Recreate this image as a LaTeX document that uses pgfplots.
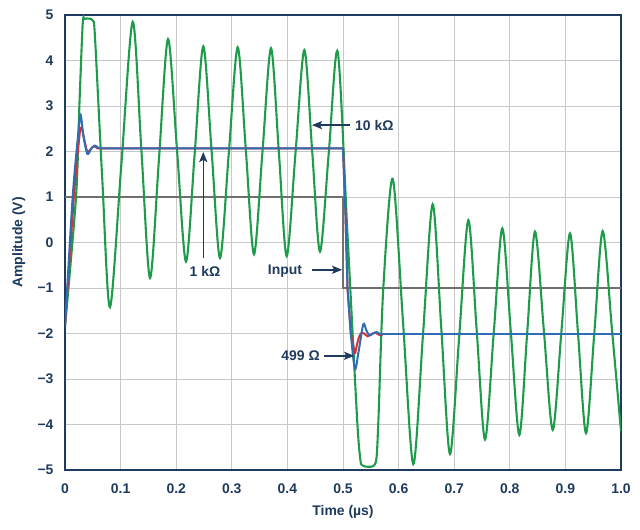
\documentclass[border=0pt]{standalone}
\usepackage{pgfplots}
\pgfplotsset{compat=1.18}
\usepackage{fontspec}
\setmainfont{Liberation Sans}
\usetikzlibrary{arrows.meta}
\definecolor{navy}{HTML}{1E3A5C}
\definecolor{gC}{HTML}{1E9B4B}
\definecolor{bC}{HTML}{2E6DB4}
\definecolor{rC}{HTML}{D7312E}
\definecolor{iC}{HTML}{707070}
\definecolor{gridC}{HTML}{C8C8C8}
\newcommand{\lab}{\bfseries\fontsize{14}{16}\selectfont}
\begin{document}
\begin{tikzpicture}
\begin{axis}[
  at={(65bp,60bp)}, anchor=south west,
  width=556bp, height=455bp, scale only axis,
  xmin=0, xmax=1, ymin=-5, ymax=5,
  xtick={0,0.1,0.2,0.3,0.4,0.5,0.6,0.7,0.8,0.9,1.0},
  xticklabels={0,0.1,0.2,0.3,0.4,0.5,0.6,0.7,0.8,0.9,1.0},
  ytick={-5,-4,-3,-2,-1,0,1,2,3,4,5},
  yticklabels={−5,−4,−3,−2,−1,0,1,2,3,4,5},
  grid=major,
  major grid style={gridC, line width=0.9bp},
  major tick length=0pt,
  axis line style={navy, line width=2bp},
  tick label style={font=\lab, text=navy},
  yticklabel style={xshift=-8bp},
  xticklabel style={yshift=-10bp},
  xlabel={Time (µs)}, ylabel={Amplitude (V)},
  label style={font=\lab, text=navy},
  every axis x label/.append style={at={(axis description cs:0.5,-0.092)}, anchor=center},
  every axis y label/.append style={at={(axis description cs:-0.083,0.5)}, anchor=center},
]
% Input
\addplot[iC, line width=2bp] coordinates {(0,1) (0.5,1) (0.5,-1) (1,-1)};
% 10 kOhm (green)
\addplot[gC, line width=2.1bp, smooth] coordinates {
(0,-1.85) (0.0198,1.0) (0.0257,2.96) (0.0318,4.80) (0.035,4.91) (0.043,4.92) (0.0505,4.87) (0.054,4.5)
(0.067,1.4) (0.0809,-1.42) (0.1014,1.72) (0.1218,4.85) (0.1374,2.03) (0.1529,-0.78)
(0.1691,1.85) (0.1853,4.47) (0.2015,2.03) (0.2176,-0.42) (0.2332,1.95) (0.2487,4.31)
(0.2638,1.99) (0.2788,-0.34) (0.2947,1.98) (0.3106,4.29) (0.3253,2.02) (0.3399,-0.26)
(0.3552,2.0) (0.3705,4.27) (0.3846,1.99) (0.3987,-0.30) (0.4146,1.97) (0.4304,4.23)
(0.4445,2.02) (0.4586,-0.20) (0.4746,2.0) (0.4905,4.19)
(0.508,0.2) (0.525,-3.8) (0.531,-4.75) (0.535,-4.9) (0.546,-4.93) (0.556,-4.90) (0.5605,-4.7)
(0.564,-3.8) (0.5725,-1.0) (0.5894,1.40) (0.6079,-1.74) (0.6264,-4.87) (0.6439,-2.02)
(0.6613,0.84) (0.6769,-1.91) (0.6924,-4.65) (0.7089,-2.08) (0.7254,0.49) (0.7404,-1.92)
(0.7554,-4.33) (0.7710,-2.01) (0.7865,0.31) (0.8018,-1.96) (0.8171,-4.23) (0.8312,-2.0)
(0.8453,0.24) (0.8613,-1.94) (0.8772,-4.12) (0.8928,-1.96) (0.9083,0.20) (0.9227,-2.0)
(0.9371,-4.19) (0.9521,-1.97) (0.9671,0.25) (0.984,-1.95) (1.0,-4.15)};
% 499 Ohm (red)
\addplot[rC, line width=2bp, smooth] coordinates {
(0,-1.85) (0.016,1.0) (0.026,2.35) (0.030,2.53) (0.034,2.3) (0.040,2.0) (0.046,2.05) (0.052,2.12) (0.058,2.07) (0.066,2.07)};
\addplot[rC, line width=2bp] coordinates {(0.066,2.07) (0.5,2.07) (0.5045,0.6) (0.5081,-1.0) (0.514,-2.0) (0.5216,-2.45)};
\addplot[rC, line width=2bp, smooth] coordinates {
(0.5216,-2.45) (0.527,-2.15) (0.532,-2.0) (0.538,-2.0) (0.544,-2.06) (0.551,-2.02) (0.558,-1.98) (0.565,-2.03) (0.572,-2.02)};
% 1 kOhm (blue)
\addplot[bC, line width=2bp, smooth] coordinates {
(0,-1.85) (0.0138,1.0) (0.0239,2.4) (0.0282,2.80) (0.033,2.35) (0.0401,1.95) (0.047,2.06) (0.054,2.13) (0.060,2.08) (0.066,2.07)};
\addplot[bC, line width=2bp] coordinates {(0.066,2.07) (0.5,2.07) (0.5045,0.6) (0.5081,-1.0) (0.514,-2.0)};
\addplot[bC, line width=2bp, smooth] coordinates {
(0.514,-2.0) (0.5214,-2.78) (0.528,-2.4) (0.5365,-1.80) (0.542,-1.93) (0.5473,-2.04) (0.554,-2.0) (0.5606,-1.97) (0.566,-2.01) (0.572,-2.02)};
\addplot[bC, line width=2bp] coordinates {(0.572,-2.02) (1,-2.02)};
% annotations
\draw[navy, line width=1.5bp, -{Stealth[length=10bp,width=8bp,inset=2bp]}] (axis cs:0.5126,2.58) -- (axis cs:0.4442,2.58);
\node[anchor=west, text=navy, font=\lab, inner sep=0pt] at (axis cs:0.5216,2.58) {10 kΩ};
\draw[navy, line width=1.5bp, -{Stealth[length=10bp,width=8bp,inset=2bp]}] (axis cs:0.2487,-0.34) -- (axis cs:0.2487,1.99);
\node[anchor=center, text=navy, font=\lab, inner sep=0pt] at (axis cs:0.2518,-0.63) {1 kΩ};
\node[anchor=center, text=navy, font=\lab, inner sep=0pt] at (axis cs:0.3957,-0.62) {Input};
\draw[navy, line width=1.5bp, -{Stealth[length=10bp,width=8bp,inset=2bp]}] (axis cs:0.4442,-0.60) -- (axis cs:0.4985,-0.60);
\node[anchor=east, text=navy, font=\lab, inner sep=0pt] at (axis cs:0.4586,-2.49) {499 Ω};
\draw[navy, line width=1.5bp, -{Stealth[length=10bp,width=8bp,inset=2bp]}] (axis cs:0.4664,-2.49) -- (axis cs:0.5200,-2.49);
\end{axis}
\pgfresetboundingbox
\path[use as bounding box] (0,0) rectangle (640bp,530bp);
\end{tikzpicture}
\end{document}
